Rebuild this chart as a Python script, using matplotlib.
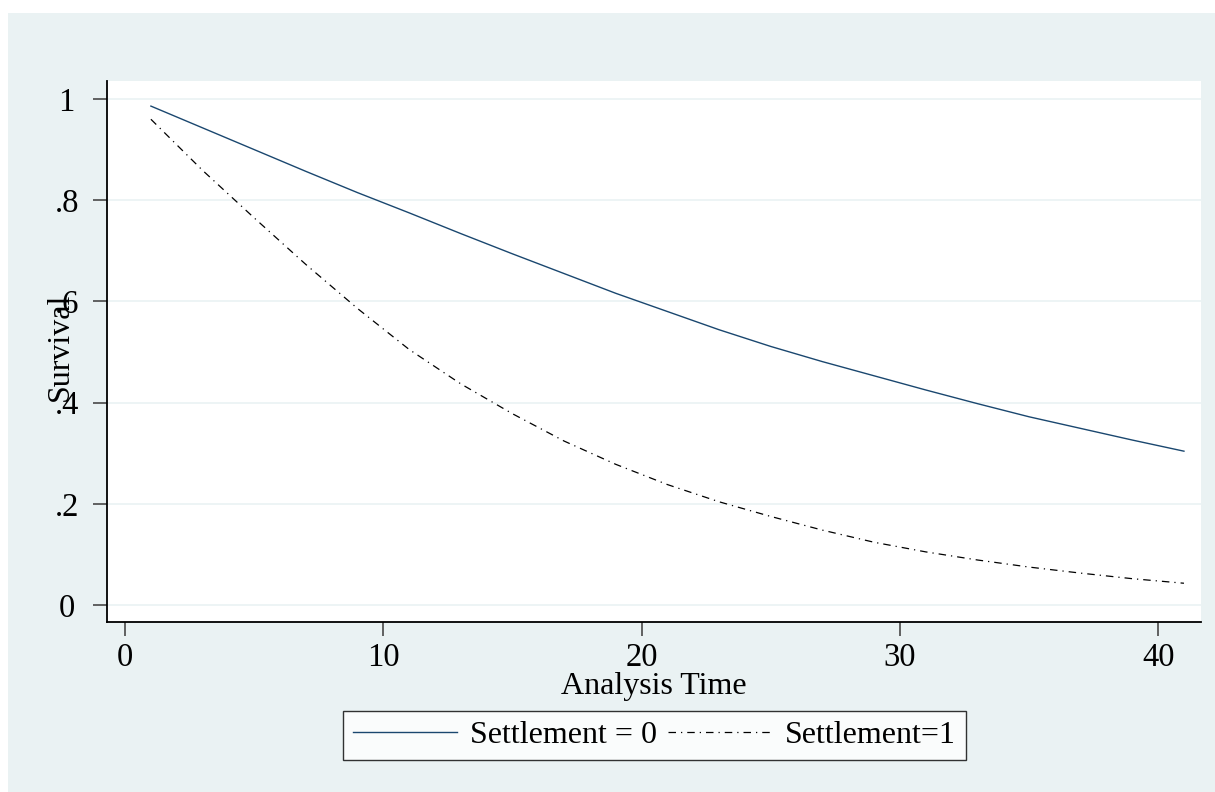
import matplotlib
matplotlib.use('Agg')
import matplotlib.pyplot as plt
from matplotlib.patches import Rectangle

# Survival curves (analysis time, survival)
time = [1, 3, 5, 7, 9, 11, 13, 15, 17, 19, 21,
        23, 25, 27, 29, 31, 33, 35, 37, 39, 41]
surv_settle0 = [0.986, 0.943, 0.900, 0.857, 0.815, 0.775, 0.734, 0.694, 0.655, 0.616, 0.580,
                0.544, 0.511, 0.481, 0.453, 0.425, 0.398, 0.372, 0.349, 0.326, 0.304]
surv_settle1 = [0.960, 0.859, 0.765, 0.673, 0.586, 0.505, 0.437, 0.378, 0.324, 0.278, 0.238,
                0.204, 0.175, 0.148, 0.124, 0.105, 0.089, 0.075, 0.063, 0.052, 0.043]

ytick_vals = [0, 0.2, 0.4, 0.6, 0.8, 1]
ytick_labels = ['0', '.2', '.4', '.6', '.8', '1']
xtick_vals = [0, 10, 20, 30, 40]
series_labels = ['Settlement = 0', 'Settlement=1']

BG = '#EAF2F3'
NAVY = '#1a476f'

plt.rcParams['font.family'] = ['Liberation Serif', 'DejaVu Serif']

W, H = 1215, 792
fig = plt.figure(figsize=(W / 100, H / 100), dpi=100, facecolor='white')

# Stata-like outer background, leaves a thin white strip top/left
fig.patches.append(Rectangle((8 / W, 0), 1 - 8 / W, 1 - 13 / H, transform=fig.transFigure,
                             facecolor=BG, edgecolor='none', zorder=-10))

ax = fig.add_axes([107 / W, 1 - 622 / H, (1201 - 107) / W, (622 - 81) / H])
ax.set_facecolor('white')

l0, = ax.plot(time, surv_settle0, color=NAVY, lw=1.0, label=series_labels[0])
l1, = ax.plot(time, surv_settle1, color='black', lw=0.9,
              linestyle=(0, (6, 4, 1, 4)), label=series_labels[1])

ax.set_xlim(-0.70, 41.66)
ax.set_ylim(-0.0336, 1.0356)

ax.set_yticks(ytick_vals)
ax.set_yticklabels(ytick_labels)
ax.set_xticks(xtick_vals)

for lab in ax.get_yticklabels():
    lab.set_horizontalalignment('center')

ax.tick_params(axis='y', length=10, width=1.3, color='#555555', labelsize=23.5, pad=19)
ax.tick_params(axis='x', length=10, width=1.3, color='#555555', labelsize=23.5, pad=5)

ax.grid(axis='y', color=BG, lw=1.2)
ax.set_axisbelow(True)

for side in ['top', 'right']:
    ax.spines[side].set_visible(False)
for side in ['left', 'bottom']:
    ax.spines[side].set_linewidth(1.3)
    ax.spines[side].set_color('black')

ax.set_xlabel('Analysis Time', fontsize=23, labelpad=-1)
ax.set_ylabel('Survival', fontsize=23)
ax.yaxis.set_label_coords((75 - 107) / (1201 - 107), (622 - 347) / (622 - 81))

leg = fig.legend(handles=[l0, l1], loc='center', ncol=2,
                 bbox_to_anchor=(654.5 / W, 1 - 735.5 / H),
                 fontsize=23, frameon=True, fancybox=False,
                 handlelength=3.25, handletextpad=0.4, columnspacing=0.35,
                 borderpad=0.32)
leg.get_frame().set_edgecolor('black')
leg.get_frame().set_linewidth(1.0)

fig.savefig('out.png', dpi=100, facecolor='white')
